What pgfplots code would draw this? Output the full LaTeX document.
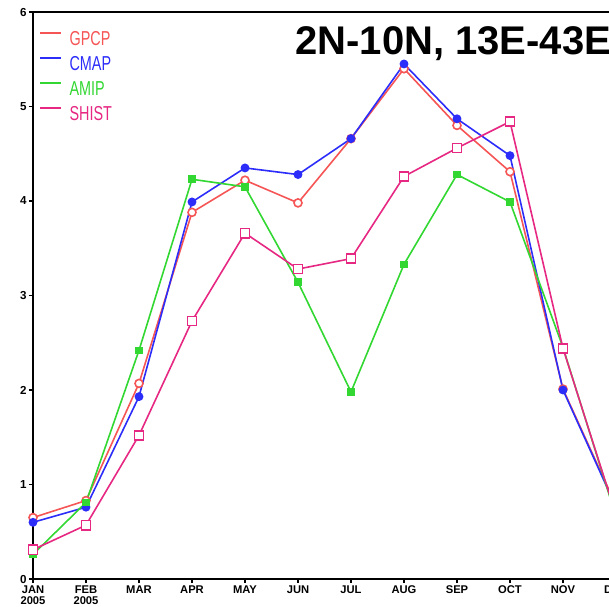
\documentclass[border=0pt]{standalone}
\usepackage{fontspec}
\setmainfont{Liberation Sans}
\usepackage{graphicx}
\usepackage{pgfplots}
\pgfplotsset{compat=1.18}
\definecolor{cgpcp}{RGB}{245,85,85}
\definecolor{ccmap}{RGB}{45,45,250}
\definecolor{camip}{RGB}{50,215,50}
\definecolor{cshist}{RGB}{230,40,130}
\begin{document}
\begin{tikzpicture}
\useasboundingbox (-16.5pt,-13.5pt) rectangle (288pt,289.5pt);
\begin{axis}[
  at={(0pt,0pt)}, anchor=south west,
  scale only axis, width=304.75pt, height=283.5pt,
  xmin=0, xmax=11.5, ymin=0, ymax=6,
  xtick={0,...,11},
  xticklabels={{JAN\\2005},{FEB\\2005},MAR,APR,MAY,JUN,JUL,AUG,SEP,OCT,NOV,DEC},
  xticklabel style={align=center, font=\fontsize{5.6}{5.6}\selectfont\bfseries, inner sep=1pt},
  ytick={0,...,6},
  yticklabel style={font=\fontsize{5.8}{6}\selectfont\bfseries, inner sep=1pt},
  /pgf/number format/assume math mode=true,
  xtick pos=bottom, ytick pos=left,
  tick align=outside, major tick length=2pt,
  axis line style={line width=1.3pt},
  tick style={line width=0.9pt, black},
  legend cell align=left,
  legend style={at={(0.0,0.9745)}, anchor=north west, draw=none, fill=none,
    font=\fontsize{7.2}{7.2}\selectfont, row sep=5pt,
    nodes={inner sep=0pt, text height=7.5pt, text depth=0pt},
    /tikz/every odd column/.append style={column sep=4pt}},
  legend image code/.code={\draw[#1, line width=1.1pt] (0pt,2.8pt) -- (10pt,2.8pt);},
]
\addplot[cgpcp, line width=0.8pt, mark=*, mark size=2pt, mark options={fill=white}]
  coordinates {(0,0.65)(1,0.83)(2,2.07)(3,3.88)(4,4.22)(5,3.98)(6,4.66)(7,5.40)(8,4.80)(9,4.31)(10,2.01)(11,0.78)};
\addlegendentry{\textcolor{cgpcp}{\scalebox{1}[1.4]{GPCP}}}
\addplot[ccmap, line width=0.8pt, mark=*, mark size=1.8pt]
  coordinates {(0,0.60)(1,0.76)(2,1.93)(3,3.99)(4,4.35)(5,4.28)(6,4.66)(7,5.45)(8,4.87)(9,4.48)(10,2.00)(11,0.76)};
\addlegendentry{\textcolor{ccmap}{\scalebox{1}[1.4]{CMAP}}}
\addplot[camip, line width=0.8pt, mark=square*, mark size=1.5pt]
  coordinates {(0,0.26)(1,0.81)(2,2.42)(3,4.23)(4,4.15)(5,3.14)(6,1.98)(7,3.33)(8,4.28)(9,3.99)(10,2.45)(11,0.66)};
\addlegendentry{\textcolor{camip}{\scalebox{1}[1.4]{AMIP}}}
\addplot[cshist, line width=0.8pt, mark=square*, mark size=2.3pt, mark options={fill=white}]
  coordinates {(0,0.31)(1,0.57)(2,1.52)(3,2.73)(4,3.66)(5,3.28)(6,3.39)(7,4.26)(8,4.56)(9,4.84)(10,2.44)(11,0.68)};
\addlegendentry{\textcolor{cshist}{\scalebox{1}[1.4]{SHIST}}}
\end{axis}
\node[anchor=base west, inner sep=0pt, font=\fontsize{20}{20}\selectfont\bfseries] at (131pt,262pt) {2N-10N, 13E-43E};
\end{tikzpicture}
\end{document}
